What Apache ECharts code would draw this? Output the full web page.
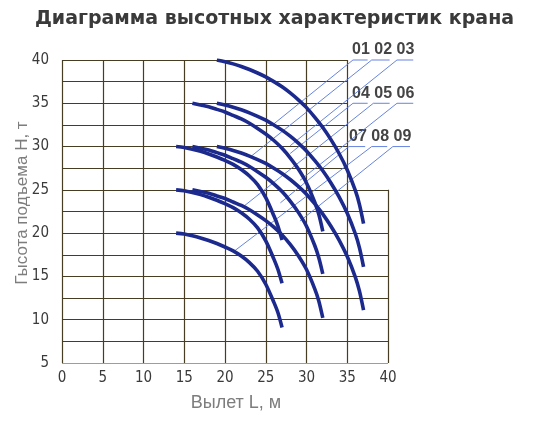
<!DOCTYPE html>
<html>
<head>
<meta charset="utf-8">
<script src="https://cdn.jsdelivr.net/npm/echarts@6/dist/echarts.min.js"></script>
<style>
  html, body { margin: 0; padding: 0; background: #fff; }
  #crane { width: 549px; height: 421px; }
</style>
</head>
<body>
<div id="crane"></div>
<script>
// tick values
var xTicks = [0, 5, 10, 15, 20, 25, 30, 35, 40];
var yTicks = [5, 7.5, 10, 12.5, 15, 17.5, 20, 22.5, 25, 27.5, 30, 32.5, 35, 37.5, 40];

// вылет L for each boom group
var xLong  = [19, 20, 21, 22, 23, 24, 25, 26, 27, 28, 29, 30, 31, 32, 33, 34, 35, 36, 36.5, 37];
var xMid   = [16, 17, 18, 19, 20, 21, 22, 23, 24, 25, 26, 27, 28, 29, 30, 31, 31.5, 32];
var xShort = [14, 15, 16, 17, 18, 19, 20, 21, 22, 23, 24, 25, 26, 26.5, 27];

// высота H
var y01 = [40, 39.8, 39.55, 39.25, 38.9, 38.5, 38.05, 37.5, 36.9, 36.2, 35.4, 34.5, 33.4, 32.2, 30.8, 29.2, 27.3, 24.9, 23.3, 21.1];
var y02 = [35, 34.8, 34.55, 34.25, 33.9, 33.5, 33.05, 32.5, 31.9, 31.2, 30.4, 29.5, 28.4, 27.2, 25.8, 24.2, 22.3, 19.9, 18.3, 16.1];
var y03 = [30, 29.8, 29.55, 29.25, 28.9, 28.5, 28.05, 27.5, 26.9, 26.2, 25.4, 24.5, 23.4, 22.2, 20.8, 19.2, 17.3, 14.9, 13.3, 11.1];
var y04 = [35, 34.8, 34.6, 34.3, 34.0, 33.6, 33.2, 32.7, 32.1, 31.45, 30.7, 29.8, 28.7, 27.4, 25.8, 23.6, 22.2, 20.2];
var y05 = [30, 29.8, 29.6, 29.3, 29.0, 28.6, 28.2, 27.7, 27.1, 26.45, 25.7, 24.8, 23.7, 22.4, 20.8, 18.6, 17.2, 15.3];
var y06 = [25, 24.8, 24.6, 24.3, 24.0, 23.6, 23.2, 22.7, 22.1, 21.45, 20.7, 19.8, 18.7, 17.4, 15.8, 13.6, 12.2, 10.2];
var y07 = [30, 29.9, 29.7, 29.45, 29.15, 28.8, 28.4, 27.95, 27.35, 26.6, 25.6, 24.1, 22.0, 20.8, 19.2];
var y08 = [25, 24.9, 24.7, 24.45, 24.15, 23.8, 23.4, 22.95, 22.35, 21.6, 20.6, 19.1, 17.0, 15.8, 14.2];
var y09 = [20, 19.9, 19.7, 19.45, 19.15, 18.8, 18.4, 17.95, 17.35, 16.6, 15.6, 14.1, 12.0, 10.8, 9.1];

// label rows and their leader lines: stub left x, stub right x, stub level, end point on a curve
var labelRows = ['01 02 03', '04 05 06', '07 08 09'];
var stubLeft  = [35.7, 38.0, 41.1, 35.7, 38.2, 41.1, 35.2, 38.0, 40.6];
var stubRight = [37.5, 40.2, 43.1, 37.5, 40.2, 43.1, 37.2, 39.9, 42.7];
var stubLevel = [40, 40, 40, 35, 35, 35, 30, 30, 30];
var leaderEnd = [[25.7,32.4],[23.1,28.8],[28.0,30.1],[28.0,29.2],[22.3,23.1],[29.2,26.1],[26.8,23.5],[21.1,17.9],[29.2,21.4]];

var curves = [
    [xLong, y01], [xLong, y02], [xLong, y03],
    [xMid, y04], [xMid, y05], [xMid, y06],
    [xShort, y07], [xShort, y08], [xShort, y09]
];
var names = ['01', '02', '03', '04', '05', '06', '07', '08', '09'];

window.onload = function () {
    var chart = echarts.init(document.getElementById('crane'));

    // grid is stepped: upper right corner (x>35, y>25) is left open
    var gridSegs = [];
    yTicks.forEach(function (y) {
        gridSegs.push({ coords: [[0, y], [y <= 25 ? 40 : 35, y]] });
    });
    xTicks.forEach(function (x) {
        gridSegs.push({ coords: [[x, 5], [x, x <= 35 ? 40 : 25]] });
    });

    var leaders = [];
    for (var i = 0; i < 9; i++) {
        leaders.push({ coords: [[stubRight[i], stubLevel[i]], [stubLeft[i], stubLevel[i]], leaderEnd[i]] });
    }

    var tickFont = '"DejaVu Sans Condensed", "Liberation Sans", sans-serif';

    var series = [
        {
            type: 'lines',
            coordinateSystem: 'cartesian2d',
            silent: true,
            z: 1,
            lineStyle: { color: '#463d22', width: 1.2, opacity: 1 },
            data: gridSegs
        },
        {
            type: 'lines',
            coordinateSystem: 'cartesian2d',
            polyline: true,
            clip: false,
            silent: true,
            z: 2,
            lineStyle: { color: '#5577dd', width: 1, opacity: 0.9 },
            data: leaders
        }
    ];
    curves.forEach(function (c, k) {
        var pts = c[0].map(function (x, j) { return [x, c[1][j]]; });
        series.push({
            name: names[k],
            type: 'line',
            data: pts,
            smooth: 0.3,
            showSymbol: false,
            z: 3,
            lineStyle: { color: '#1c2a8e', width: 3.6 }
        });
    });

    var option = {
        backgroundColor: '#fff',
        animation: false,
        title: {
            text: 'Диаграмма высотных характеристик крана',
            left: 'center',
            top: 5,
            textStyle: { fontFamily: 'DejaVu Sans', fontWeight: 'bold', fontSize: 19, color: '#3a3a3a' }
        },
        grid: { left: 62, right: 161, top: 60, bottom: 58 },
        xAxis: {
            type: 'value',
            min: 0, max: 40, interval: 5,
            axisLine: { show: false },
            axisTick: { show: false },
            splitLine: { show: false },
            axisLabel: { margin: 8, color: '#3a3a3a', fontSize: 15, fontFamily: tickFont }
        },
        yAxis: {
            type: 'value',
            min: 5, max: 40, interval: 5,
            axisLine: { show: false },
            axisTick: { show: false },
            splitLine: { show: false },
            axisLabel: { margin: 13, color: '#3a3a3a', fontSize: 15, fontFamily: tickFont }
        },
        graphic: [
            {
                type: 'text', x: 22, y: 203, rotation: Math.PI / 2,
                style: { text: 'Гысота подъема Н, т', fill: '#7d7d7d', font: '17px "Liberation Sans"', textAlign: 'center', textVerticalAlign: 'middle' }
            },
            {
                type: 'text', x: 236, y: 403,
                style: { text: 'Вылет L, м', fill: '#7d7d7d', font: '18px "Liberation Sans"', textAlign: 'center', textVerticalAlign: 'middle' }
            },
            {
                type: 'text', x: 352, y: 50,
                style: { text: labelRows[0], fill: '#444', font: 'bold 16px "Liberation Sans"', textVerticalAlign: 'middle' }
            },
            {
                type: 'text', x: 352, y: 94,
                style: { text: labelRows[1], fill: '#444', font: 'bold 16px "Liberation Sans"', textVerticalAlign: 'middle' }
            },
            {
                type: 'text', x: 349, y: 137,
                style: { text: labelRows[2], fill: '#444', font: 'bold 16px "Liberation Sans"', textVerticalAlign: 'middle' }
            }
        ],
        series: series
    };

    chart.setOption(option);
};
</script>
</body>
</html>
